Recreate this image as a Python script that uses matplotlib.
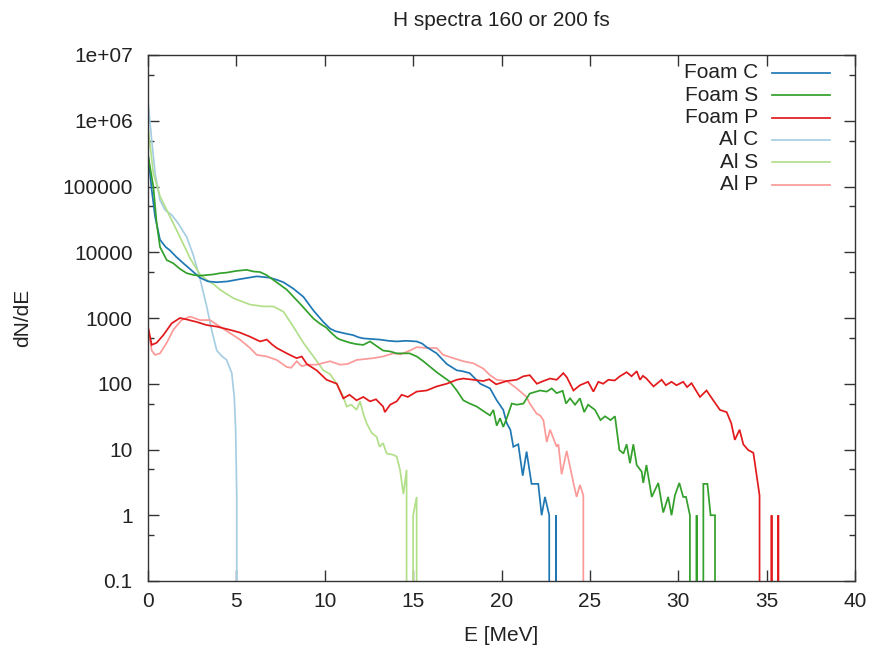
import numpy as np
import matplotlib
matplotlib.use("Agg")
import matplotlib.pyplot as plt
from matplotlib.ticker import FixedLocator, NullFormatter, FuncFormatter

plt.rcParams["font.family"] = ["Liberation Sans", "DejaVu Sans"]
plt.rcParams["font.size"] = 15

# Proton energy spectra, dN/dE vs E [MeV]; zero counts are stored as 0
foam_c_E = [0.02, 0.21, 0.40, 0.68, 1.0, 1.24, 1.6, 2.0, 2.5, 2.94, 3.4, 3.89, 4.5, 5.2, 5.7,
            6.15, 6.9, 7.3, 7.66, 8.22, 8.79, 9.36, 9.92, 10.3, 10.6, 11.05, 11.3, 11.6, 11.9,
            12.18, 12.6, 13.1, 13.6, 14.07, 14.6, 15.2, 15.5, 15.77, 16.33, 16.9, 17.47, 17.8,
            18.2, 18.8, 19.35, 19.73, 20.1, 20.3, 20.5, 20.67, 20.95, 21.2, 21.42, 21.7, 22.08,
            22.27, 22.46, 22.7, 22.85, 22.95, 23.08, 23.2]
foam_c_N = [2.8e5, 8.9e4, 3.5e4, 1.55e4, 1.2e4, 1.07e4, 8500, 6800, 5200, 4100, 3600, 3500,
            3600, 3900, 4100, 4300, 4100, 3800, 3500, 2800, 2100, 1300, 870, 690, 630, 590,
            570, 550, 510, 490, 480, 470, 450, 440, 450, 440, 410, 360, 290, 200, 160, 155,
            145, 100, 85, 56, 40, 25, 20, 11, 12, 4, 9.3, 3, 3, 1, 1.9, 1, 0, 0, 1, 0]

foam_s_E = [0.02, 0.30, 0.49, 0.68, 1.06, 1.43, 1.8, 2.19, 2.6, 2.94, 3.32, 3.7, 4.07, 4.45,
            5.0, 5.58, 5.96, 6.34, 6.7, 7.09, 7.85, 8.6, 9.36, 9.7, 10.1, 10.3, 10.68, 10.86,
            11.43, 11.8, 12.18, 12.56, 12.9, 13.3, 13.7, 14.07, 14.8, 15.2, 15.58, 16.33,
            17.09, 17.47, 17.84, 18.2, 18.6, 19.0, 19.35, 19.54, 19.73, 19.92, 20.1, 20.3,
            20.58, 20.86, 21.24, 21.6, 22.18, 22.56, 22.84, 23.12, 23.46, 23.65, 23.88, 24.16,
            24.44, 24.68, 24.9, 25.29, 25.6, 25.86, 26.17, 26.42, 26.67, 26.9, 27.08, 27.27,
            27.46, 27.65, 27.93, 28.02, 28.2, 28.5, 28.87, 29.15, 29.43, 29.62, 29.81, 30.06,
            30.28, 30.44, 30.66, 30.8, 30.9, 31.04, 31.2, 31.3, 31.42, 31.65, 31.83, 32.08, 32.2]
foam_s_N = [2.8e5, 1e5, 2.75e4, 1.2e4, 7600, 6800, 5600, 4800, 4500, 4400, 4500, 4600, 4800,
            4900, 5200, 5400, 5100, 5000, 4500, 3800, 2700, 1650, 980, 830, 710, 620, 500, 470,
            420, 400, 390, 440, 380, 320, 310, 290, 290, 260, 220, 150, 107, 79, 56, 50, 45, 38,
            33, 40, 23, 30, 22, 30, 50, 48, 50, 71, 79, 76, 85, 72, 78, 50, 60, 48, 60, 37, 48,
            40, 28, 32, 28, 32, 9.8, 8.7, 12, 6.2, 12, 5.8, 4.6, 3.1, 5.8, 1.9, 3.1, 1.1, 1.9,
            1, 2, 3.1, 1.9, 1.9, 1, 0, 0, 1, 0, 0, 3, 3, 1, 1, 0]

foam_p_E = [0.02, 0.21, 0.49, 0.87, 1.34, 1.81, 2.19, 2.76, 3.32, 3.89, 4.64, 5.2, 5.77, 6.34,
            6.72, 7.0, 7.28, 7.85, 8.41, 8.7, 8.98, 9.54, 10.1, 10.68, 11.05, 11.4, 11.8, 12.18,
            12.56, 12.9, 13.3, 13.4, 13.7, 14.07, 14.35, 14.7, 15.2, 15.77, 16.33, 16.9, 17.47,
            17.84, 18.4, 18.97, 19.3, 19.7, 20.3, 20.86, 21.24, 21.6, 22.0, 22.37, 22.75, 23.12,
            23.5, 23.7, 24.07, 24.44, 24.9, 25.2, 25.48, 25.75, 26.05, 26.4, 26.7, 27.08, 27.36,
            27.65, 27.84, 28.0, 28.2, 28.6, 29.06, 29.3, 29.62, 29.9, 30.28, 30.5, 30.75, 31.04,
            31.23, 31.6, 31.98, 32.36, 32.74, 33.0, 33.2, 33.47, 33.68, 33.96, 34.25, 34.6,
            34.75, 35.15, 35.28, 35.4, 35.55, 35.66, 35.8]
foam_p_N = [690, 390, 420, 550, 830, 1000, 950, 870, 780, 740, 660, 600, 520, 440, 470, 400,
            350, 290, 245, 260, 200, 160, 115, 100, 60, 68, 56, 63, 54, 58, 45, 37, 48, 54, 68,
            63, 76, 79, 91, 100, 115, 120, 115, 110, 117, 98, 110, 115, 130, 135, 100, 110, 120,
            115, 145, 125, 79, 95, 107, 76, 107, 100, 115, 112, 130, 150, 130, 155, 115, 132,
            120, 91, 115, 95, 107, 95, 107, 89, 102, 76, 63, 79, 56, 40, 37, 25, 14, 20, 12,
            9.8, 8.9, 2, 0, 0, 1, 0, 0, 1, 0]

al_c_E = [0.02, 0.21, 0.40, 0.68, 0.96, 1.34, 1.71, 2.19, 2.56, 2.94, 3.32, 3.6, 3.89, 4.2,
          4.45, 4.74, 4.88, 4.96, 5.02, 5.08]
al_c_N = [1.7e6, 5.1e5, 1.6e5, 6.2e4, 4.4e4, 3.7e4, 2.75e4, 1.7e4, 9100, 4000, 1500, 660, 320,
          260, 230, 145, 63, 20, 2, 0]

al_s_E = [0.02, 0.30, 0.68, 1.24, 1.81, 2.38, 2.94, 3.32, 3.69, 4.07, 4.83, 5.77, 6.52, 7.09,
          7.66, 8.22, 8.79, 9.36, 9.92, 10.3, 10.68, 11.05, 11.24, 11.5, 11.8, 12.0, 12.18,
          12.37, 12.65, 12.94, 13.1, 13.3, 13.5, 13.88, 14.07, 14.26, 14.45, 14.63, 14.8, 14.9,
          15.0, 15.2, 15.35]
al_s_N = [7.2e5, 1.6e5, 7.1e4, 3.5e4, 1.7e4, 8100, 4600, 3800, 3300, 2700, 2000, 1600, 1500,
          1500, 1250, 740, 420, 260, 160, 140, 100, 63, 45, 48, 40, 54, 35, 25, 18, 15.5, 11,
          12.5, 8.7, 8.3, 7.8, 4.9, 2.1, 4.9, 0, 0, 1, 1.9, 0]

al_p_E = [0.02, 0.21, 0.40, 0.68, 1.06, 1.43, 1.90, 2.38, 2.94, 3.5, 4.07, 4.64, 5.2, 5.77,
          6.15, 6.72, 7.28, 7.85, 8.1, 8.41, 8.7, 8.98, 9.54, 10.3, 10.86, 11.3, 11.8, 12.75,
          13.3, 13.88, 14.3, 14.82, 15.2, 15.77, 16.33, 16.7, 17.28, 17.84, 18.4, 18.97, 19.35,
          19.73, 20.3, 20.86, 21.42, 21.6, 21.99, 22.18, 22.37, 22.56, 22.75, 23.12, 23.22,
          23.4, 23.69, 24.07, 24.25, 24.44, 24.63, 24.7]
al_p_N = [660, 320, 275, 290, 420, 660, 930, 1050, 930, 930, 740, 590, 470, 350, 275, 260, 230,
          180, 175, 220, 185, 195, 195, 220, 195, 200, 230, 245, 260, 290, 280, 320, 360, 350,
          350, 275, 245, 220, 205, 170, 135, 115, 110, 85, 63, 50, 35, 33, 28, 13, 20, 11, 12,
          4.2, 9.5, 3.1, 1.9, 2.9, 2, 0]

labels = ["Foam C", "Foam S", "Foam P", "Al C", "Al S", "Al P"]
colors = ["#1f78b4", "#33a02c", "#e31a1c", "#a6cee3", "#b2df8a", "#fb9a99"]
series = [(foam_c_E, foam_c_N), (foam_s_E, foam_s_N), (foam_p_E, foam_p_N),
          (al_c_E, al_c_N), (al_s_E, al_s_N), (al_p_E, al_p_N)]

x_ticks = [0, 5, 10, 15, 20, 25, 30, 35, 40]
y_ticks = [0.1, 1, 10, 100, 1000, 1e4, 1e5, 1e6, 1e7]
y_minor = [0.5, 5, 50, 500, 5000, 5e4, 5e5, 5e6]

fig = plt.figure(figsize=(8.72, 6.48), dpi=100)
ax = fig.add_axes([148 / 872, 67 / 648, 707 / 872, 526 / 648])

# Draw the light (Al) curves first so the dark ones sit on top
order = [3, 4, 5, 0, 1, 2]
for i in order:
    E, N = series[i]
    ax.plot(E, N, color=colors[i], lw=1.25, solid_joinstyle="miter")

ax.set_yscale("log", nonpositive="clip")
ax.set_xlim(0, 40)
ax.set_ylim(0.1, 1e7)

ax.xaxis.set_major_locator(FixedLocator(x_ticks))
ax.yaxis.set_major_locator(FixedLocator(y_ticks))
ax.yaxis.set_minor_locator(FixedLocator(y_minor))
ax.yaxis.set_minor_formatter(NullFormatter())


def ylab(v, pos):
    if v >= 1e6:
        return "1e+%02d" % int(round(np.log10(v)))
    if v >= 1:
        return "%d" % int(round(v))
    return "%g" % v


ax.yaxis.set_major_formatter(FuncFormatter(ylab))

frame_col = "#333333"
txt_col = "#222222"
for s in ax.spines.values():
    s.set_color(frame_col)
    s.set_linewidth(1.0)
ax.tick_params(which="both", direction="in", top=True, right=True, colors=frame_col,
               labelcolor=txt_col, labelsize=15, width=1.0)
ax.tick_params(which="major", length=8)
ax.tick_params(axis="y", which="major", pad=11)
ax.tick_params(axis="x", which="major", pad=8)
ax.tick_params(which="minor", length=4)
ax.tick_params(axis="x", which="minor", top=False, bottom=False)

ax.set_xlabel("E [MeV]", fontsize=15, color=txt_col, labelpad=11)
ax.set_ylabel("dN/dE", fontsize=15, color=txt_col, labelpad=22)
ax.set_title("H spectra 160 or 200 fs", fontsize=15, color=txt_col, pad=21)

# Key in the top-right corner: right-aligned text with a line sample after it
y0, dy = 0.966, 0.0425
for k, (lab, col) in enumerate(zip(labels, colors)):
    yy = y0 - k * dy
    ax.text(0.863, yy, lab, transform=ax.transAxes, ha="right", va="center",
            fontsize=15, color=txt_col)
    ax.plot([0.883, 0.965], [yy, yy], transform=ax.transAxes, color=col, lw=1.25)

fig.savefig("out.png", dpi=100)
